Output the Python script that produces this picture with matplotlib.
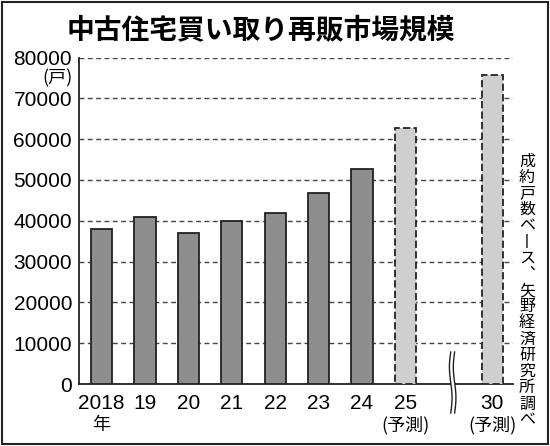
import numpy as np
import matplotlib
matplotlib.use("Agg")
import matplotlib.pyplot as plt
from matplotlib.patches import Rectangle, Polygon
from matplotlib.transforms import blended_transform_factory

plt.rcParams['font.family'] = ['Liberation Sans', 'Noto Sans CJK JP']

# data
years = ['2018', '19', '20', '21', '22', '23', '24', '25', '30']
sub_labels = ['年', '', '', '', '', '', '', '(予測)', '(予測)']
households = [38000, 41000, 37000, 40000, 42000, 46700, 52800, 62700, 75700]
is_forecast = [False] * 7 + [True, True]

title = '中古住宅買い取り再販市場規模'
unit = '(戸)'
source = '成約戸数ベース、矢野経済研究所調べ'

W, H = 550, 446
fig = plt.figure(figsize=(W / 100, H / 100), dpi=100)
ax = fig.add_axes([79 / W, 62 / H, (513 - 79) / W, (384 - 57.5) / H])

# leave one empty slot before 2030 for the axis break
xpos = list(range(len(years) - 1)) + [len(years)]

for x, v, fc in zip(xpos, households, is_forecast):
    if fc:
        ax.bar(x, v, width=0.49, color='#cfcfcf', edgecolor='#222222',
               linewidth=1.3, linestyle=(0, (4, 1.8)), zorder=3)
    else:
        ax.bar(x, v, width=0.49, color='#8e8e8e', edgecolor='#222222',
               linewidth=1.3, zorder=3)

ax.set_xlim(-0.52, 9.48)
ax.set_ylim(0, 80000)
ax.set_yticks(np.arange(0, 80001, 10000))
ax.set_yticklabels([str(t) for t in range(0, 80001, 10000)], fontsize=15)
ax.set_xticks(xpos)
ax.set_xticklabels(years, fontsize=15)
ax.tick_params(length=0)
ax.tick_params(axis='y', pad=5)
ax.tick_params(axis='x', pad=7)
ax.grid(axis='y', color='#444444', linestyle=(0, (3.5, 2.5)), linewidth=1.0, zorder=1)
ax.set_axisbelow(True)
for s in ['top', 'right']:
    ax.spines[s].set_visible(False)
for s in ['left', 'bottom']:
    ax.spines[s].set_linewidth(1.3)
    ax.spines[s].set_color('#222222')

trans = blended_transform_factory(ax.transData, ax.transAxes)
for x, lab in zip(xpos, sub_labels):
    if lab:
        ax.text(x, -0.126, lab, transform=trans, ha='center', va='center',
                fontsize=13, family=['Noto Sans CJK JP'])

# axis break mark
t = np.linspace(0, 1, 60)
yb = -0.089 + t * (0.098 + 0.089)
wave = 0.03 * np.sin(2 * np.pi * t)
bx = 8.09
left = bx - 0.045 + wave
right = bx + 0.045 + wave
gap = Polygon(np.column_stack([np.r_[left, right[::-1]], np.r_[yb, yb[::-1]]]),
              closed=True, facecolor='white', edgecolor='none',
              transform=trans, clip_on=False, zorder=4)
ax.add_patch(gap)
ax.plot(left, yb, color='#222222', lw=1.0, transform=trans, clip_on=False, zorder=5)
ax.plot(right, yb, color='#222222', lw=1.0, transform=trans, clip_on=False, zorder=5)

fig.text(261 / W, 1 - 31.5 / H, title, ha='center', va='center', fontsize=20,
         fontweight='bold', family=['Noto Sans CJK JP'])
fig.text(73 / W, 1 - 78 / H, unit, ha='right', va='center', fontsize=13,
         family=['Noto Sans CJK JP'])

# vertical source note, one character per row
vchars = source.replace('ー', '丨').replace('、', '︑')
for i, ch in enumerate(vchars):
    fig.text(527 / W, 1 - (161 + i * 16.2) / H, ch, ha='center', va='center',
             fontsize=11.5, family=['Noto Sans CJK JP', 'DejaVu Sans'])

fig.add_artist(Rectangle((1.5 / W, 2.5 / H), (W - 3.5) / W, (H - 4.5) / H,
                         transform=fig.transFigure, fill=False,
                         edgecolor='#222222', linewidth=1.5))

fig.savefig('out.png', dpi=100)
